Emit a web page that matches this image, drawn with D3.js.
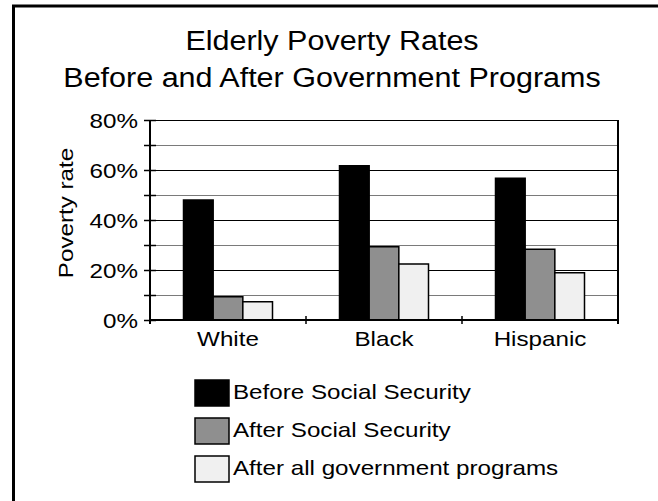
<!DOCTYPE html>
<html>
<head>
<meta charset="utf-8">
<script src="https://cdn.jsdelivr.net/npm/d3@7"></script>
<style>
  html, body { margin: 0; padding: 0; background: #fff; }
  svg { display: block; font-family: "Liberation Sans", Arial, Helvetica, sans-serif; }
</style>
</head>
<body>
<svg id="chart" width="658" height="501"></svg>
<script>
// Poverty rates among the elderly, by group
const groups = ["White", "Black", "Hispanic"];
const seriesNames = ["Before Social Security", "After Social Security", "After all government programs"];
const beforeSS = [48, 61.7, 56.7];
const afterSS = [9.3, 29.3, 28.3];
const afterAll = [7.3, 22.4, 18.9];
const yTicks = [0, 20, 40, 60, 80];
const yGrid = [0, 10, 20, 30, 40, 50, 60, 70, 80];

const seriesValues = [beforeSS, afterSS, afterAll];
const fills = ["#000000", "#8f8f8f", "#f0f0f0"];

// the typeface is set a little wide
const WIDE = 1.18;
const LABEL_SIZE = 20.5;

const svg = d3.select("#chart");

// places a horizontally widened text at (x, y), optionally rotated
function label(parent, x, y, str, opts = {}) {
  const rot = opts.rotate ? ` rotate(${opts.rotate})` : "";
  return parent.append("text")
    .attr("transform", `translate(${x},${y})${rot} scale(${opts.wide || WIDE},1)`)
    .attr("text-anchor", opts.anchor || "start")
    .attr("font-size", opts.size || LABEL_SIZE)
    .attr("fill", "#000")
    .text(str);
}

// frame
svg.append("rect")
  .attr("x", 13.5).attr("y", 6)
  .attr("width", 700).attr("height", 600)
  .attr("fill", "none").attr("stroke", "#000").attr("stroke-width", 3);

// title
label(svg, 332, 50, "Elderly Poverty Rates", { anchor: "middle", size: 28, wide: 1.09 });
label(svg, 332, 87, "Before and After Government Programs", { anchor: "middle", size: 28, wide: 1.09 });

const plot = { left: 150, right: 618, top: 120, bottom: 320 };

const x0 = d3.scaleBand().domain(groups).range([plot.left, plot.right]).paddingInner(0).paddingOuter(0);
const x1 = d3.scaleBand().domain(d3.range(seriesNames.length)).range([33.5, x0.bandwidth() - 33.5]);
const y = d3.scaleLinear().domain([0, 80]).range([plot.bottom, plot.top]);

// gridlines
svg.append("g").selectAll("line").data(yGrid).join("line")
  .attr("x1", plot.left).attr("x2", plot.right)
  .attr("y1", d => Math.round(y(d)) + 0.5).attr("y2", d => Math.round(y(d)) + 0.5)
  .attr("stroke", d => d % 20 === 0 ? "#000" : "#7a7a7a")
  .attr("stroke-width", 1.2);

// right frame of the plot area
svg.append("line")
  .attr("x1", plot.right).attr("x2", plot.right)
  .attr("y1", plot.top).attr("y2", plot.bottom + 4)
  .attr("stroke", "#000").attr("stroke-width", 2);

// bars
const gGroups = svg.append("g").selectAll("g").data(groups).join("g")
  .attr("transform", d => `translate(${x0(d)},0)`);
gGroups.selectAll("rect")
  .data((g, gi) => seriesValues.map((vals, si) => ({ si, v: vals[gi] })))
  .join("rect")
  .attr("x", d => x1(d.si))
  .attr("width", x1.bandwidth())
  .attr("y", d => y(d.v))
  .attr("height", d => y(0) - y(d.v))
  .attr("fill", d => fills[d.si])
  .attr("stroke", "#000").attr("stroke-width", 1.5);

// y axis: line and ticks from d3.axisLeft, labels widened separately
const yAxis = d3.axisLeft(y).tickValues(yGrid).tickSize(6).tickFormat("");
const gy = svg.append("g").attr("transform", `translate(${plot.left},0)`).call(yAxis);
gy.select(".domain").attr("stroke-width", 2).attr("d", `M0,${plot.top}V${plot.bottom + 4}`);
gy.selectAll(".tick line").attr("x2", 6).attr("x1", -6).attr("stroke-width", 1.5);
yTicks.forEach(t => label(svg, plot.left - 12, y(t) + 7.5, t + "%", { anchor: "end" }));

// x axis
const gx = svg.append("g").attr("transform", `translate(0,${plot.bottom})`);
gx.append("line").attr("x1", plot.left).attr("x2", plot.right)
  .attr("stroke", "#000").attr("stroke-width", 2);
gx.selectAll("line.sep").data(groups.slice(1)).join("line")
  .attr("class", "sep")
  .attr("x1", d => x0(d)).attr("x2", d => x0(d))
  .attr("y1", -4).attr("y2", 4)
  .attr("stroke", "#000").attr("stroke-width", 1.5);
groups.forEach(g => label(gx, x0(g) + x0.bandwidth() / 2, 26, g, { anchor: "middle" }));

// y axis title
label(svg, 73, 213, "Poverty rate", { anchor: "middle", rotate: -90 });

// legend
const legend = svg.append("g").selectAll("g").data(seriesNames).join("g")
  .attr("transform", (d, i) => `translate(195,${380 + i * 38})`);
legend.append("rect")
  .attr("width", 34).attr("height", 26)
  .attr("fill", (d, i) => fills[i])
  .attr("stroke", "#000").attr("stroke-width", 1.5);
legend.each(function (d) { label(d3.select(this), 38, 19, d); });
</script>
</body>
</html>
